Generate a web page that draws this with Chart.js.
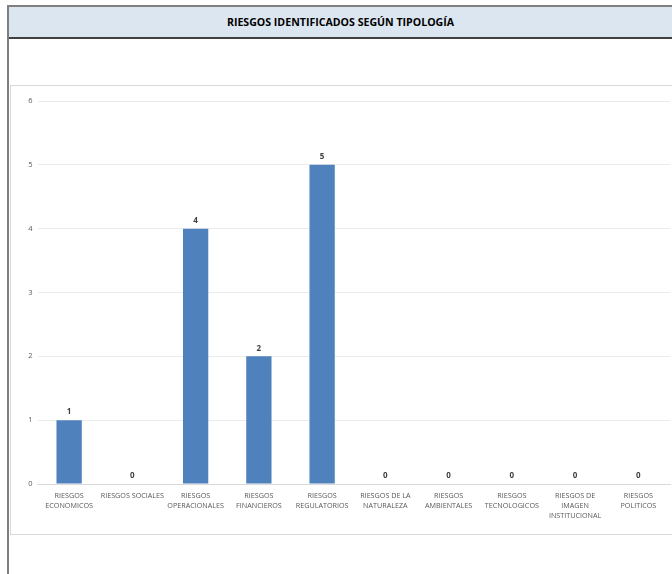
<!DOCTYPE html>
<html>
<head>
<meta charset="utf-8">
<script src="https://cdn.jsdelivr.net/npm/chart.js@4/dist/chart.umd.min.js"></script>
<style>
  html, body { margin: 0; padding: 0; background: #ffffff; width: 672px; height: 574px; overflow: hidden; }
  #frame { position: absolute; left: 7px; top: 5px; width: 700px; height: 600px; border-left: 2px solid #7f7f7f; }
  #header { position: absolute; left: 9px; top: 5px; width: 700px; height: 30px; background: #dce6f1;
            border-top: 2px solid #808080; border-bottom: 2px solid #404040;
            font-family: "Open Sans", "Liberation Sans", sans-serif; font-weight: bold; font-size: 10.6px;
            color: #000; line-height: 30px; }
  #title { position: absolute; left: 0; width: 663px; text-align: center; }
  #box { position: absolute; left: 10px; top: 85px; width: 700px; height: 448px; border: 1px solid #d9d9d9; border-right: none; }
  #wrap { position: absolute; left: 10px; top: 85px; width: 662px; height: 449px; }
</style>
</head>
<body>
<div id="frame"></div>
<div id="header"><div id="title">RIESGOS IDENTIFICADOS SEGÚN TIPOLOGÍA</div></div>
<div id="box"></div>
<div id="wrap"><canvas id="c"></canvas></div>
<script>
const categories = [
  ["RIESGOS", "ECONOMICOS"],
  ["RIESGOS SOCIALES"],
  ["RIESGOS", "OPERACIONALES"],
  ["RIESGOS", "FINANCIEROS"],
  ["RIESGOS", "REGULATORIOS"],
  ["RIESGOS DE LA", "NATURALEZA"],
  ["RIESGOS", "AMBIENTALES"],
  ["RIESGOS", "TECNOLOGICOS"],
  ["RIESGOS DE", "IMAGEN", "INSTITUCIONAL"],
  ["RIESGOS", "POLITICOS"]
];
const values = [1, 0, 4, 2, 5, 0, 0, 0, 0, 0];
const yTicks = [0, 1, 2, 3, 4, 5, 6];

const FONT = '"Open Sans", "Liberation Sans", sans-serif';

const labelPlugin = {
  id: 'barLabels',
  afterDatasetsDraw(chart) {
    const ctx = chart.ctx;
    const meta = chart.getDatasetMeta(0);
    ctx.save();
    ctx.font = 'bold 8px ' + FONT;
    ctx.fillStyle = '#404040';
    ctx.textAlign = 'center';
    ctx.textBaseline = 'bottom';
    meta.data.forEach((bar, i) => {
      ctx.fillText(String(values[i]), bar.x, bar.y - 4);
    });
    ctx.restore();
  }
};

new Chart(document.getElementById('c'), {
  type: 'bar',
  data: {
    labels: categories,
    datasets: [{
      data: values,
      backgroundColor: '#4f81bd',
      borderWidth: 0,
      categoryPercentage: 1.0,
      barPercentage: 0.4
    }]
  },
  options: {
    responsive: true,
    maintainAspectRatio: false,
    animation: false,
    layout: { padding: { top: 16, right: 2, bottom: 0, left: 0 } },
    plugins: { legend: { display: false }, tooltip: { enabled: false }, title: { display: false } },
    scales: {
      x: {
        grid: { display: false, drawTicks: false },
        border: { display: true, color: '#d9d9d9' },
        ticks: {
          color: '#595959',
          font: { family: FONT, size: 7.2, lineHeight: 1.4 },
          maxRotation: 0,
          autoSkip: false,
          padding: 7
        },
        afterFit(s) { s.height = 50; }
      },
      y: {
        min: 0,
        max: 6,
        afterBuildTicks(s) { s.ticks = yTicks.map(v => ({ value: v })); },
        grid: { color: '#ebebeb', drawTicks: false },
        border: { display: false },
        ticks: {
          color: '#595959',
          font: { family: FONT, size: 7.5 },
          padding: 5
        },
        afterFit(s) { s.width = 27.5; }
      }
    }
  },
  plugins: [labelPlugin]
});
</script>
</body>
</html>
